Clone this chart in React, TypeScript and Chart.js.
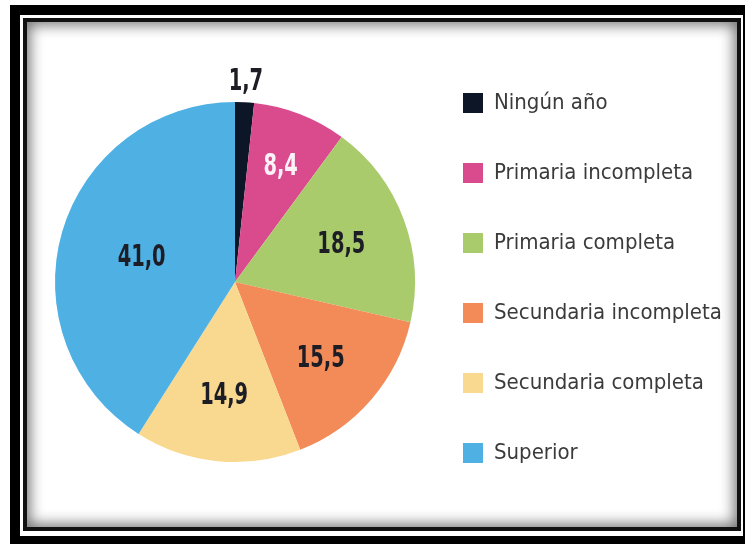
import React, { useEffect, useRef } from "react";
import { Chart, registerables } from "chart.js";

Chart.register(...registerables);

const categories = [
  "Ningún año",
  "Primaria incompleta",
  "Primaria completa",
  "Secundaria incompleta",
  "Secundaria completa",
  "Superior",
];
const values = [1.7, 8.4, 18.5, 15.5, 14.9, 41.0];
const colors = ["#0d1626", "#da4b8e", "#aacb6c", "#f28b57", "#f9d98f", "#4fb0e3"];
const labelColors = ["#1d1d26", "#fdf2f7", "#1d1d26", "#1d1d26", "#1d1d26", "#1d1d26"];
// radial placement of value labels (fraction of the pie radius)
const labelRadius = [1.13, 0.7, 0.63, 0.63, 0.62, 0.54];

const FAMILY = "'Liberation Sans Narrow', 'DejaVu Sans Condensed', 'Roboto Condensed', sans-serif";
const LEGEND_SIZE = 22;
const LEGEND_PAD = 48;
const BOX = 20;

const valueLabels = {
  id: "valueLabels",
  afterDatasetsDraw(chart: any) {
    const ctx = chart.ctx;
    const meta = chart.getDatasetMeta(0);
    meta.data.forEach((arc: any, i: number) => {
      const p = arc.getProps(["x", "y", "startAngle", "endAngle", "outerRadius"], true);
      const mid = (p.startAngle + p.endAngle) / 2;
      const r = p.outerRadius * labelRadius[i];
      const x = p.x + Math.cos(mid) * r;
      const y = p.y + Math.sin(mid) * r;
      const size = 30;
      ctx.save();
      ctx.translate(x, y + size * 0.36);
      ctx.scale(0.72, 1);
      ctx.font = `bold ${size}px ${FAMILY}`;
      ctx.fillStyle = labelColors[i];
      ctx.textAlign = "center";
      ctx.textBaseline = "alphabetic";
      ctx.fillText(values[i].toFixed(1).replace(".", ","), 0, 0);
      ctx.restore();
    });
  },
};

export default function App() {
  const ref = useRef<HTMLCanvasElement | null>(null);

  useEffect(() => {
    const canvas = ref.current!;
    const m = document.createElement("canvas").getContext("2d")!;
    m.font = `${LEGEND_SIZE}px ${FAMILY}`;
    let maxText = 0;
    categories.forEach((c) => {
      maxText = Math.max(maxText, m.measureText(c).width);
    });
    const legendWidth = LEGEND_PAD + BOX + LEGEND_SIZE / 2 + maxText + 10;
    const pieRight = 415;
    const padRight = Math.max(0, 745 - pieRight - legendWidth);

    const chart = new Chart(canvas, {
      type: "pie",
      data: {
        labels: categories,
        datasets: [
          {
            data: values,
            backgroundColor: colors,
            borderWidth: 0,
          },
        ],
      },
      options: {
        responsive: false,
        animation: false,
        layout: { padding: { left: 55, top: 44, bottom: 24, right: padRight } },
        plugins: {
          tooltip: { enabled: false },
          legend: {
            position: "right",
            align: "start",
            labels: {
              boxWidth: BOX,
              boxHeight: BOX,
              padding: LEGEND_PAD,
              color: "#3b3b3b",
              font: { family: FAMILY, size: LEGEND_SIZE },
            },
          },
        },
      },
      plugins: [valueLabels],
    });
    return () => chart.destroy();
  }, []);

  return (
    <div>
      <div style={{ position: "fixed", left: 10, top: 5, width: 800, height: 600, background: "#000" }} />
      <div style={{ position: "fixed", left: 20, top: 15, width: 723, height: 521, background: "#fff" }} />
      <div
        style={{
          position: "fixed",
          left: 23,
          top: 18,
          width: 718,
          height: 513,
          boxSizing: "border-box",
          border: "4px solid #111",
          background: "#fff",
          boxShadow: "inset 0 0 14px 3px rgba(0,0,0,0.55)",
        }}
      />
      <canvas
        ref={ref}
        width={745}
        height={544}
        style={{ position: "fixed", left: 0, top: 0, width: 745, height: 544 }}
      />
    </div>
  );
}
